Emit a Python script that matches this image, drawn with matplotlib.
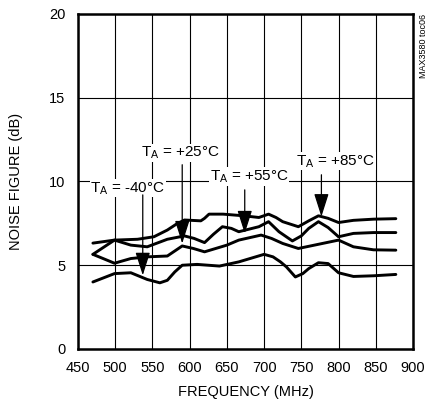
import matplotlib
matplotlib.use("Agg")
import matplotlib.pyplot as plt

plt.rcParams['font.family'] = ['Liberation Sans', 'DejaVu Sans']

# noise figure vs frequency
f_85 = [470, 499, 530, 552, 570, 582, 593, 615, 620, 626, 645, 673, 693, 706, 716, 725, 746, 760, 773, 786, 800, 820, 847, 877]
nf_85 = [6.32, 6.5, 6.55, 6.7, 7.1, 7.45, 7.7, 7.65, 7.8, 8.05, 8.05, 7.95, 7.85, 8.05, 7.85, 7.6, 7.3, 7.65, 7.95, 7.8, 7.55, 7.68, 7.75, 7.78]

f_55 = [470, 499, 521, 543, 570, 593, 606, 620, 632, 644, 656, 666, 693, 706, 720, 738, 750, 760, 773, 786, 800, 820, 847, 877]
nf_55 = [5.65, 6.5, 6.2, 6.1, 6.55, 6.75, 6.6, 6.35, 6.85, 7.3, 7.2, 7.0, 7.3, 7.6, 7.0, 6.45, 6.75, 7.2, 7.6, 7.25, 6.7, 6.9, 6.95, 6.95]

f_25 = [470, 499, 521, 543, 570, 590, 605, 620, 650, 666, 696, 710, 725, 746, 773, 800, 820, 847, 877]
nf_25 = [5.65, 5.12, 5.4, 5.5, 5.55, 6.15, 6.0, 5.8, 6.2, 6.5, 6.8, 6.6, 6.3, 6.0, 6.25, 6.5, 6.1, 5.92, 5.9]

f_m40 = [470, 499, 521, 543, 560, 570, 580, 590, 610, 640, 666, 700, 712, 722, 730, 742, 752, 760, 773, 786, 800, 820, 847, 877]
nf_m40 = [4.0, 4.5, 4.55, 4.15, 3.95, 4.1, 4.6, 5.0, 5.05, 4.95, 5.2, 5.65, 5.5, 5.2, 4.9, 4.3, 4.5, 4.8, 5.15, 5.1, 4.55, 4.33, 4.37, 4.45]

# label text, label position, arrow tip
labels = [r'T$_\mathregular{A}$ = -40°C', r'T$_\mathregular{A}$ = +25°C',
          r'T$_\mathregular{A}$ = +55°C', r'T$_\mathregular{A}$ = +85°C']
label_xy = [(517, 9.6), (588, 11.7), (680, 10.3), (796, 11.2)]
tip_xy = [(537, 4.4), (590, 6.3), (674, 6.9), (777, 7.9)]
tail_y = [9.2, 11.0, 9.5, 10.4]

fig = plt.figure(figsize=(4.37, 4.11), dpi=100)
ax = fig.add_axes([0.1785, 0.1509, 0.7665, 0.8151])

for f, nf in [(f_85, nf_85), (f_55, nf_55), (f_25, nf_25), (f_m40, nf_m40)]:
    ax.plot(f, nf, color='black', lw=2.1, solid_capstyle='round',
            solid_joinstyle='round', zorder=3)

ax.set_xlim(450, 900)
ax.set_ylim(0, 20)
ax.set_xticks(range(450, 901, 50))
ax.set_yticks([0, 5, 10, 15, 20])
ax.grid(True, color='black', lw=0.8)
ax.tick_params(length=0, labelsize=10.5, pad=9)
for s in ax.spines.values():
    s.set_linewidth(1.8)

ax.set_xlabel('FREQUENCY (MHz)', fontsize=10.5, labelpad=7)
ax.set_ylabel('NOISE FIGURE (dB)', fontsize=10.5, labelpad=19)

for txt, (lx, ly), (tx, ty), yt in zip(labels, label_xy, tip_xy, tail_y):
    ax.text(lx, ly, txt, fontsize=11, ha='center', va='center', zorder=4,
            bbox=dict(facecolor='white', edgecolor='none', pad=0.5))
    ax.annotate('', xy=(tx, ty), xytext=(tx, yt), zorder=5,
                arrowprops=dict(arrowstyle='-|>,head_length=1.1,head_width=0.35',
                                color='black', lw=0.9, mutation_scale=13,
                                shrinkA=0, shrinkB=0))

fig.text(0.958, 0.966, 'MAX3580 toc06', rotation=90, fontsize=6.5,
         ha='left', va='top')

fig.savefig('out.png', dpi=100)
